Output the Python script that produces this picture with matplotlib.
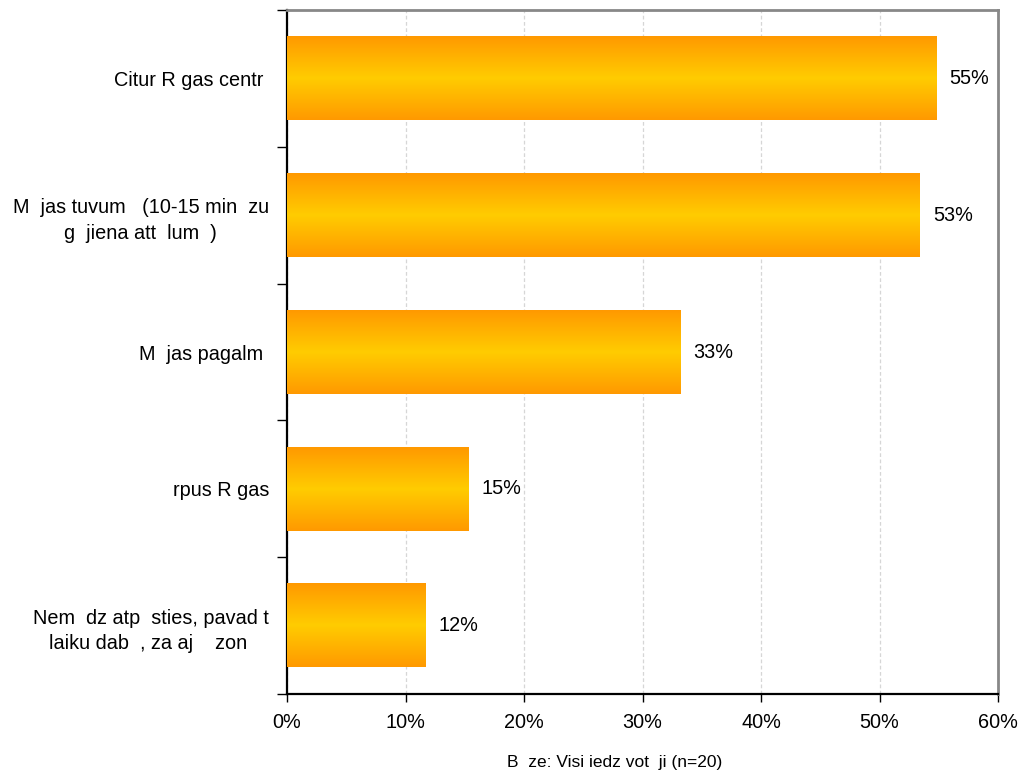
import matplotlib.pyplot as plt
import numpy as np
from matplotlib.colors import LinearSegmentedColormap

plt.rcParams['font.family'] = ['Liberation Sans', 'DejaVu Sans']

# data (percent)
categories = [
    "Citur R gas centr ",
    "M  jas tuvum   (10-15 min  zu\ng  jiena att  lum  )",
    "M  jas pagalm ",
    "rpus R gas",
    "Nem  dz atp  sties, pavad t\nlaiku dab  , za aj    zon ",
]
values = [54.8, 53.4, 33.2, 15.3, 11.7]
value_labels = ["55%", "53%", "33%", "15%", "12%"]
xticks = [0, 10, 20, 30, 40, 50, 60]
note = "B  ze: Visi iedz vot  ji (n=20)"

fig = plt.figure(figsize=(10.22, 7.75), dpi=100)
ax = fig.add_axes([287/1022, 1 - 694/775, 711/1022, 684/775])

y = np.arange(len(categories))
bars = ax.barh(y, values, height=0.61, color='none', edgecolor='none', zorder=3)

# orange -> yellow -> orange vertical gradient in each bar
cmap = LinearSegmentedColormap.from_list('og', ['#FF9900', '#FFCC00', '#FF9900'])
grad = np.linspace(0, 1, 256).reshape(-1, 1)
for b in bars:
    x0, y0 = b.get_x(), b.get_y()
    w, h = b.get_width(), b.get_height()
    ax.imshow(grad, cmap=cmap, aspect='auto', extent=[x0, x0 + w, y0, y0 + h],
              origin='lower', zorder=3, interpolation='bilinear')

for v, lab, yy in zip(values, value_labels, y):
    ax.text(v + 1.1, yy, lab, va='center', ha='left', fontsize=14.3, zorder=4)

ax.set_xlim(0, 60)
ax.set_ylim(len(categories) - 0.5, -0.5)
ax.set_xticks(xticks)
ax.set_xticklabels([f"{t}%" for t in xticks], fontsize=14.3)
ax.tick_params(axis='x', direction='out', length=6, width=1, pad=8)

ax.set_yticks(np.arange(len(categories) + 1) - 0.5)
ax.set_yticklabels([])
ax.set_yticks(y, minor=True)
ax.set_yticklabels(categories, minor=True, fontsize=14.3, multialignment='center',
                   linespacing=1.45)
ax.tick_params(axis='y', which='major', direction='out', length=7, width=1)
ax.tick_params(axis='y', which='minor', length=0, pad=13)

ax.grid(axis='x', color='#d6d6d6', linestyle=(0, (3, 2)), linewidth=0.9, zorder=0)
ax.set_axisbelow(True)

ax.spines['left'].set_linewidth(1.6)
ax.spines['bottom'].set_linewidth(1.6)
ax.spines['top'].set_color('#888888')
ax.spines['right'].set_color('#888888')
ax.spines['top'].set_linewidth(2)
ax.spines['right'].set_linewidth(2)

fig.text(615/1022, 1 - 762/775, note, ha='center', va='center', fontsize=12.5)

fig.savefig('out.png', dpi=100)
